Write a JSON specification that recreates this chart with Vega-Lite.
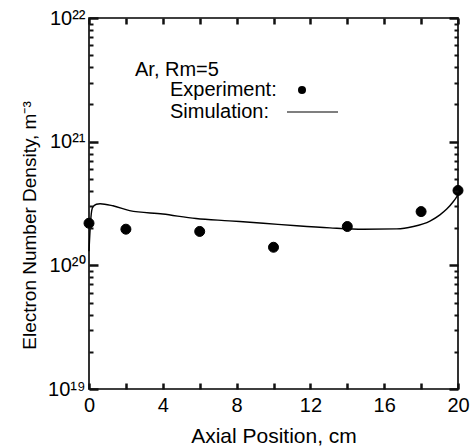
{
  "$schema": "https://vega.github.io/schema/vega-lite/v6.json",
  "width": 369,
  "height": 371,
  "autosize": {"type": "none"},
  "padding": {"left": 89, "top": 18, "right": 16, "bottom": 58},
  "background": "white",
  "datasets": {
    "experiment": [
      {"x": 0, "n": 2.19e20, "series": "Experiment:"},
      {"x": 2, "n": 1.96e20, "series": "Experiment:"},
      {"x": 6, "n": 1.88e20, "series": "Experiment:"},
      {"x": 10, "n": 1.40e20, "series": "Experiment:"},
      {"x": 14, "n": 2.06e20, "series": "Experiment:"},
      {"x": 18, "n": 2.72e20, "series": "Experiment:"},
      {"x": 20, "n": 4.03e20, "series": "Experiment:"}
    ],
    "simulation": [
      {"x": 0, "n": 1.3e20},
      {"x": 0.1, "n": 2.4e20},
      {"x": 0.2, "n": 2.95e20},
      {"x": 0.4, "n": 3.12e20},
      {"x": 0.6, "n": 3.15e20},
      {"x": 1.3, "n": 3.03e20},
      {"x": 2.2, "n": 2.77e20},
      {"x": 4.0, "n": 2.6e20},
      {"x": 5.8, "n": 2.39e20},
      {"x": 7.6, "n": 2.29e20},
      {"x": 9.45, "n": 2.19e20},
      {"x": 11.26, "n": 2.09e20},
      {"x": 13.06, "n": 2.01e20},
      {"x": 14.87, "n": 1.96e20},
      {"x": 16.68, "n": 1.97e20},
      {"x": 17.58, "n": 2.06e20},
      {"x": 18.48, "n": 2.28e20},
      {"x": 19.02, "n": 2.56e20},
      {"x": 19.39, "n": 2.85e20},
      {"x": 19.75, "n": 3.28e20},
      {"x": 20, "n": 3.72e20}
    ]
  },
  "resolve": {"axis": {"x": "independent", "y": "independent"}},
  "layer": [
    {
      "data": {"name": "simulation"},
      "mark": {"type": "line", "color": "black", "strokeWidth": 1.4, "interpolate": "monotone"},
      "encoding": {
        "x": {"field": "x", "type": "quantitative",
          "scale": {"domain": [0, 20], "nice": false, "zero": false},
          "axis": {"orient": "top", "values": [0, 2, 4, 6, 8, 10, 12, 14, 16, 18, 20], "labels": false, "ticks": true, "tickColor": "#111111", "tickWidth": 2.5, "tickSize": 6, "offset": -6, "title": null, "zindex": 2}},
        "y": {"field": "n", "type": "quantitative",
          "scale": {"type": "log", "domain": [1e19, 1e22], "nice": false},
          "axis": {"orient": "right", "values": [1e19, 1e20, 1e21, 1e22], "labels": false, "ticks": true, "tickColor": "#111111", "tickWidth": 2.5, "tickSize": 9, "offset": -9, "title": null, "zindex": 2}}
      }
    },
    {
      "data": {"name": "simulation"},
      "mark": {"type": "line", "opacity": 0},
      "encoding": {
        "x": {"field": "x", "type": "quantitative", "axis": null},
        "y": {"field": "n", "type": "quantitative",
          "axis": {"orient": "right", "values": [2e19, 3e19, 4e19, 5e19, 6e19, 7e19, 8e19, 9e19, 2e20, 3e20, 4e20, 5e20, 6e20, 7e20, 8e20, 9e20, 2e21, 3e21, 4e21, 5e21, 6e21, 7e21, 8e21, 9e21], "labels": false, "ticks": true, "tickColor": "#111111", "tickWidth": 2, "tickSize": 4, "offset": -4, "title": null, "zindex": 2}}
      }
    },
    {
      "data": {"name": "experiment"},
      "mark": {"type": "point", "opacity": 0},
      "encoding": {
        "x": {"field": "x", "type": "quantitative", "axis": null},
        "y": {"field": "n", "type": "quantitative",
          "axis": {"orient": "left", "values": [2e19, 3e19, 4e19, 5e19, 6e19, 7e19, 8e19, 9e19, 2e20, 3e20, 4e20, 5e20, 6e20, 7e20, 8e20, 9e20, 2e21, 3e21, 4e21, 5e21, 6e21, 7e21, 8e21, 9e21], "labels": false, "ticks": true, "tickColor": "#111111", "tickWidth": 2, "tickSize": 4, "offset": -4, "title": null, "zindex": 2}}
      }
    },
    {
      "data": {"name": "experiment"},
      "mark": {"type": "point", "filled": true, "size": 100, "color": "black", "stroke": "black", "strokeWidth": 1, "opacity": 1},
      "encoding": {
        "x": {"field": "x", "type": "quantitative",
          "axis": {"orient": "bottom", "values": [0, 2, 4, 6, 8, 10, 12, 14, 16, 18, 20], "labelExpr": "datum.value % 4 == 0 ? datum.label : ''", "labelFlush": false, "ticks": true, "tickColor": "#111111", "tickWidth": 2.5, "tickSize": 6, "offset": -6, "labelPadding": 6, "title": "Axial Position, cm", "titleFontSize": 21, "titlePadding": 10, "zindex": 2}},
        "y": {"field": "n", "type": "quantitative",
          "axis": {"orient": "left", "values": [1e19, 1e20, 1e21, 1e22], "labelExpr": "datum.value >= 1e22 ? '10²²' : datum.value >= 1e21 ? '10²¹' : datum.value >= 1e20 ? '10²⁰' : '10¹⁹'", "labelFlush": false, "ticks": true, "tickColor": "#111111", "tickWidth": 2.5, "tickSize": 9, "offset": -9, "labelPadding": 4, "title": "Electron Number Density, m⁻³", "titleFontSize": 19, "titlePadding": 8, "titleY": 207, "zindex": 2}},
        "shape": {"field": "series", "type": "nominal",
          "scale": {"domain": ["Experiment:", "Simulation:"], "range": ["circle", "M-3.75,-0.15H9V0.15H-3.75Z"]},
          "legend": {"orient": "none", "legendX": 46, "legendY": 42, "title": "Ar, Rm=5", "titleAnchor": "start", "titlePadding": 0, "labelOffset": -142, "symbolOffset": 157, "symbolSize": 64, "symbolFillColor": "black", "symbolStrokeColor": "black", "symbolStrokeWidth": 1.2, "rowPadding": 2, "padding": 0}}
      }
    }
  ],
  "config": {
    "view": {"stroke": "black", "strokeWidth": 1.6},
    "font": "Liberation Sans",
    "axis": {"domain": false, "grid": false, "ticks": true, "tickColor": "#111111", "tickOpacity": 1, "tickWidth": 2, "labelColor": "black", "labelFont": "Liberation Sans", "labelFontSize": 20, "titleFont": "Liberation Sans", "titleFontWeight": "normal", "titleColor": "black"},
    "legend": {"titleFont": "Liberation Sans", "titleFontSize": 20, "titleFontWeight": "normal", "titleColor": "black", "labelFont": "Liberation Sans", "labelFontSize": 20, "labelColor": "black"}
  }
}
